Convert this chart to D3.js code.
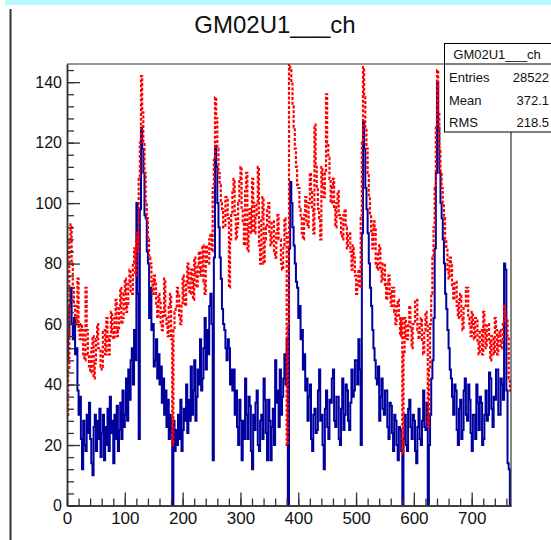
<!DOCTYPE html>
<html>
<head>
<meta charset="utf-8">
<script src="https://cdn.jsdelivr.net/npm/d3@7"></script>
<style>
  html, body { margin: 0; padding: 0; background: #fff; }
  svg { display: block; font-family: "Liberation Sans", Arial, Helvetica, sans-serif; }
</style>
</head>
<body>
<svg id="chart" width="551" height="540"></svg>
<script>
// ---------- data ----------
const title = "GM02U1___ch";
const nChannels = 768;
const binWidth = 2; // channels per displayed bin
const xTicks = [0, 100, 200, 300, 400, 500, 600, 700];
const yTicks = [0, 20, 40, 60, 80, 100, 120, 140];
const statsLabels = ["Entries", "Mean", "RMS"];
const statsValues = ["28522", "372.1", "218.5"];

// blue histogram (solid), one value per 2-channel bin
const blueSeries = [
  48, 56, 66, 72, 60, 55, 62, 50, 52, 38, 30, 36, 22, 12, 28, 20,
  18, 30, 24, 34, 22, 14, 10, 26, 30, 18, 28, 22, 32, 16, 24, 30,
  15, 26, 20, 32, 18, 36, 24, 28, 14, 30, 22, 33, 18, 25, 34, 22,
  38, 26, 30, 42, 28, 45, 35, 48, 52, 40, 58, 48, 100, 70, 22, 98,
  125, 118, 110, 96, 95, 84, 80, 62, 72, 58, 60, 46, 48, 55, 42, 50,
  40, 46, 34, 42, 30, 38, 26, 35, 22, 30, 24, 0, 28, 18, 25, 20,
  30, 22, 35, 18, 25, 32, 28, 40, 24, 35, 28, 46, 30, 38, 48, 28,
  36, 45, 40, 55, 38, 42, 52, 62, 45, 58, 50, 66, 70, 60, 15, 82,
  119, 112, 100, 92, 82, 75, 65, 60, 58, 52, 48, 55, 52, 40, 45, 38,
  45, 30, 38, 26, 20, 35, 28, 15, 28, 22, 42, 30, 22, 36, 33, 18,
  12, 30, 25, 34, 38, 20, 18, 28, 30, 22, 42, 35, 24, 15, 35, 28,
  15, 26, 32, 20, 48, 34, 38, 26, 45, 30, 36, 42, 50, 40, 55, 0,
  85, 107, 100, 92, 86, 80, 74, 72, 62, 66, 55, 58, 45, 50, 38, 42,
  28, 36, 40, 22, 18, 30, 32, 24, 25, 38, 45, 28, 30, 20, 12, 32,
  38, 26, 22, 35, 34, 42, 45, 28, 26, 36, 36, 22, 20, 32, 42, 25,
  30, 40, 38, 28, 25, 34, 45, 36, 38, 48, 48, 40, 55, 45, 20, 90,
  127, 118, 105, 98, 90, 80, 72, 66, 58, 52, 48, 42, 40, 46, 28, 36,
  42, 32, 30, 38, 38, 26, 22, 34, 33, 24, 18, 30, 28, 20, 15, 26,
  25, 18, 0, 22, 30, 20, 18, 32, 35, 26, 22, 30, 28, 18, 14, 26,
  32, 22, 20, 28, 38, 26, 25, 34, 0, 20, 30, 42, 48, 62, 85, 110,
  140, 125, 110, 100, 95, 88, 80, 70, 65, 58, 52, 45, 42, 36, 30, 40,
  38, 25, 20, 32, 35, 22, 25, 38, 42, 30, 28, 40, 35, 24, 18, 30,
  30, 22, 40, 34, 25, 36, 34, 20, 22, 30, 38, 28, 30, 44, 42, 32,
  26, 36, 35, 45, 45, 30, 30, 42, 40, 35, 80, 78, 38, 14, 12, 0
];

// red histogram (dashed), one value per 2-channel bin
const redSeries = [
  30, 45, 88, 93, 80, 72, 66, 62, 60, 75, 58, 55, 60, 58, 50, 48,
  72, 58, 50, 46, 44, 52, 56, 42, 47, 55, 60, 52, 52, 46, 45, 58,
  58, 50, 62, 55, 50, 56, 64, 58, 55, 62, 68, 56, 58, 66, 72, 60,
  62, 70, 75, 64, 66, 74, 78, 70, 70, 80, 85, 76, 90, 84, 108, 120,
  142, 130, 120, 110, 100, 95, 88, 82, 80, 74, 70, 76, 74, 66, 62, 70,
  68, 60, 58, 64, 75, 62, 60, 56, 66, 70, 55, 20, 58, 64, 65, 72,
  70, 62, 60, 66, 76, 68, 66, 74, 80, 72, 70, 78, 74, 68, 82, 76,
  72, 80, 84, 76, 78, 86, 74, 70, 86, 80, 80, 88, 90, 84, 105, 115,
  135, 128, 118, 110, 106, 100, 98, 92, 92, 102, 102, 95, 72, 88, 96, 104,
  108, 96, 88, 92, 100, 108, 112, 98, 94, 86, 104, 110, 84, 92, 98, 90,
  108, 100, 90, 96, 100, 112, 86, 80, 95, 102, 80, 88, 92, 98, 100, 90,
  86, 94, 94, 84, 82, 90, 96, 88, 88, 80, 78, 86, 95, 90, 20, 60,
  146, 144, 140, 132, 125, 118, 112, 106, 105, 98, 95, 90, 88, 96, 102, 94,
  92, 100, 110, 104, 98, 90, 126, 112, 105, 98, 95, 88, 112, 106, 102, 110,
  136, 120, 115, 108, 100, 106, 108, 98, 92, 100, 104, 96, 95, 90, 88, 96,
  98, 92, 85, 90, 90, 84, 78, 86, 82, 76, 70, 74, 78, 72, 95, 120,
  145, 135, 125, 118, 110, 102, 96, 90, 85, 94, 92, 80, 78, 84, 86, 78,
  74, 80, 80, 72, 68, 74, 76, 70, 66, 72, 72, 64, 60, 66, 68, 62,
  56, 62, 17, 50, 62, 56, 55, 60, 66, 58, 52, 60, 60, 68, 68, 58,
  55, 60, 62, 54, 50, 58, 64, 60, 26, 45, 60, 70, 82, 92, 105, 125,
  144, 130, 118, 110, 105, 100, 95, 88, 85, 78, 75, 82, 80, 72, 68, 74,
  74, 66, 62, 68, 70, 62, 58, 66, 66, 72, 72, 62, 60, 56, 64, 60,
  55, 62, 62, 54, 50, 58, 58, 50, 64, 58, 52, 60, 60, 54, 48, 56,
  56, 50, 62, 58, 50, 56, 58, 52, 54, 60, 66, 62, 62, 56, 42, 38
];

// ---------- layout ----------
const svg = d3.select("#chart");
const plot = { left: 67, right: 511, top: 64, bottom: 505.5 };

const x = d3.scaleLinear().domain([0, nChannels]).range([plot.left, plot.right]);
const y = d3.scaleLinear().domain([0, 146]).range([plot.bottom, plot.top]);

// top cyan strip and left border line (canvas decorations)
svg.append("rect").attr("x", 5).attr("y", 0).attr("width", 546).attr("height", 5)
  .attr("fill", "#b8fbff");
svg.append("line").attr("x1", 10.5).attr("x2", 10.5).attr("y1", 9).attr("y2", 540)
  .attr("stroke", "#333").attr("stroke-width", 2);

// title
svg.append("text").attr("x", 275).attr("y", 33).attr("text-anchor", "middle")
  .attr("font-size", 24).attr("fill", "#111").text(title);

// histogram step paths
function stepPoints(vals) {
  const pts = [];
  vals.forEach((v, i) => {
    pts.push([i * binWidth, v]);
    pts.push([(i + 1) * binWidth, v]);
  });
  return pts;
}
const line = d3.line().x(d => x(d[0])).y(d => y(d[1]));

svg.append("clipPath").attr("id", "clip").append("rect")
  .attr("x", plot.left).attr("y", plot.top)
  .attr("width", plot.right - plot.left).attr("height", plot.bottom - plot.top);

const g = svg.append("g").attr("clip-path", "url(#clip)");
g.append("path").datum(stepPoints(blueSeries)).attr("d", line)
  .attr("fill", "none").attr("stroke", "#00009e").attr("stroke-width", 2)
  .attr("stroke-linejoin", "miter");
g.append("path").datum(stepPoints(redSeries)).attr("d", line)
  .attr("fill", "none").attr("stroke", "#ff0000").attr("stroke-width", 2.2)
  .attr("stroke-dasharray", "3,1.8");

// frame (top and right)
svg.append("line").attr("x1", plot.left).attr("x2", plot.right).attr("y1", plot.top).attr("y2", plot.top)
  .attr("stroke", "#333").attr("stroke-width", 1.2);
svg.append("line").attr("x1", plot.right).attr("x2", plot.right).attr("y1", plot.top).attr("y2", plot.bottom)
  .attr("stroke", "#333").attr("stroke-width", 1.2);

// axes
const yMinor = d3.range(0, 146, 4);
const xMinor = d3.range(0, nChannels + 1, 20);

const yAxisMinor = d3.axisLeft(y).tickValues(yMinor).tickSize(-7).tickSizeOuter(0).tickFormat("");
const yAxis = d3.axisLeft(y).tickValues(yTicks).tickSize(-13).tickSizeOuter(0).tickPadding(5);
const xAxisMinor = d3.axisBottom(x).tickValues(xMinor).tickSize(-7).tickSizeOuter(0).tickFormat("");
const xAxis = d3.axisBottom(x).tickValues(xTicks).tickSize(-13).tickSizeOuter(0).tickPadding(6);

function styleAxis(sel) {
  sel.selectAll("path").attr("stroke", "#333").attr("stroke-width", 1.5);
  sel.selectAll("line").attr("stroke", "#333").attr("stroke-width", 1.3);
  sel.selectAll("text").attr("fill", "#111").attr("font-size", 16)
    .attr("font-family", "'Liberation Sans', Arial, sans-serif");
}
svg.append("g").attr("transform", `translate(${plot.left},0)`).call(yAxisMinor).call(styleAxis);
svg.append("g").attr("transform", `translate(${plot.left},0)`).call(yAxis).call(styleAxis);
svg.append("g").attr("transform", `translate(0,${plot.bottom})`).call(xAxisMinor).call(styleAxis);
const gx = svg.append("g").attr("transform", `translate(0,${plot.bottom})`).call(xAxis).call(styleAxis);
gx.selectAll("text").attr("font-size", 17);

// stats box
const box = { x: 444, y: 43.5, w: 110, h: 88.5, headerH: 20.5 };
svg.append("rect").attr("x", box.x + 0.5).attr("y", box.y).attr("width", box.w).attr("height", box.h)
  .attr("fill", "#fff").attr("stroke", "#000").attr("stroke-width", 1);
svg.append("line").attr("x1", box.x).attr("x2", box.x + box.w).attr("y1", box.y + box.headerH).attr("y2", box.y + box.headerH)
  .attr("stroke", "#000").attr("stroke-width", 1);
svg.append("text").attr("x", 497).attr("y", 59).attr("text-anchor", "middle")
  .attr("font-size", 13).attr("fill", "#111").text(title);
statsLabels.forEach((lab, i) => {
  const yy = 82 + i * 22.5;
  svg.append("text").attr("x", 449).attr("y", yy).attr("font-size", 13).attr("fill", "#111").text(lab);
  svg.append("text").attr("x", 549).attr("y", yy).attr("text-anchor", "end")
    .attr("font-size", 13).attr("fill", "#111").text(statsValues[i]);
});
</script>
</body>
</html>
